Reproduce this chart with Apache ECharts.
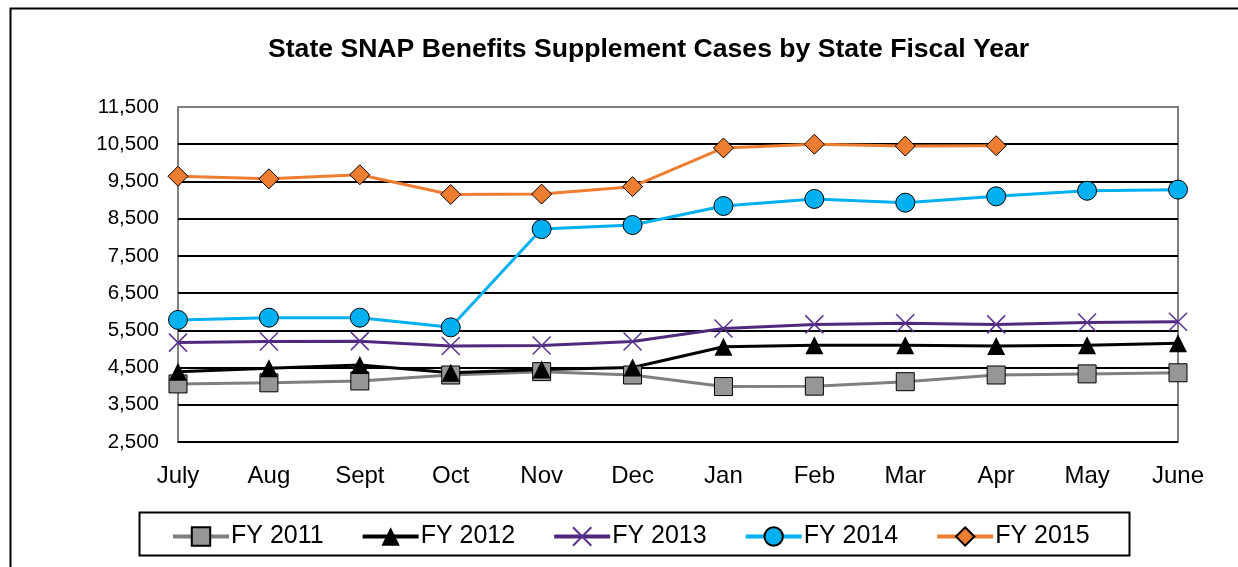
<!DOCTYPE html>
<html>
<head>
<meta charset="utf-8">
<script src="https://cdn.jsdelivr.net/npm/echarts@6/dist/echarts.min.js"></script>
<style>
  html,body{margin:0;padding:0;background:#fff;}
  #snap{width:1238px;height:567px;}
</style>
</head>
<body>
<div id="snap"></div>
<script>
// months of the state fiscal year
var months = ['July','Aug','Sept','Oct','Nov','Dec','Jan','Feb','Mar','Apr','May','June'];
var yTicks = [2500, 3500, 4500, 5500, 6500, 7500, 8500, 9500, 10500, 11500];

var fy2011 = [4060, 4090, 4140, 4300, 4390, 4300, 3990, 4000, 4120, 4300, 4330, 4360];
var fy2012 = [4390, 4480, 4570, 4360, 4450, 4500, 5060, 5100, 5100, 5080, 5100, 5150];
var fy2013 = [5170, 5200, 5210, 5080, 5090, 5200, 5550, 5660, 5690, 5660, 5710, 5730];
var fy2014 = [5780, 5840, 5840, 5580, 8220, 8330, 8840, 9030, 8930, 9100, 9250, 9280];
var fy2015 = [9640, 9570, 9680, 9150, 9160, 9360, 10400, 10500, 10450, 10460, null, null];

var font = 'Liberation Sans, Arial, sans-serif';
var chart = echarts.init(document.getElementById('snap'));

function mkSeries(name, data, color, symbol, size, item) {
  return {
    name: name,
    type: 'line',
    data: data,
    symbol: symbol,
    symbolSize: size,
    showAllSymbol: true,
    connectNulls: false,
    lineStyle: {color: color, width: 3},
    itemStyle: item,
    emphasis: {disabled: true}
  };
}

var option = {
  animation: false,
  backgroundColor: '#fff',
  title: {
    text: 'State SNAP Benefits Supplement Cases by State Fiscal Year',
    left: 268,
    top: 36,
    padding: 0,
    textStyle: {fontFamily: font, fontSize: 26.6, fontWeight: 'bold', color: '#000'}
  },
  graphic: [
    {type: 'rect', left: 8, top: 6, shape: {width: 1300, height: 620},
     style: {fill: 'none', stroke: '#000', lineWidth: 2}, silent: true},
    {type: 'rect', left: 137, top: 510, shape: {width: 990, height: 43},
     style: {fill: 'none', stroke: '#000', lineWidth: 2}, silent: true}
  ],
  grid: {
    left: 178, right: 60, top: 107, bottom: 125,
    show: true, borderColor: '#808080', borderWidth: 2, backgroundColor: 'transparent'
  },
  legend: {
    left: 166, top: 519,
    itemWidth: 56, itemHeight: 23, itemGap: 37,
    lineStyle: {width: 4},
    textStyle: {fontFamily: font, fontSize: 25, color: '#000', padding: [0, 0, 0, -3]},
    data: ['FY 2011', 'FY 2012', 'FY 2013', 'FY 2014', 'FY 2015']
  },
  xAxis: {
    type: 'category',
    data: months,
    boundaryGap: false,
    axisLine: {show: false},
    axisTick: {show: false},
    axisLabel: {fontFamily: font, fontSize: 24, color: '#000', margin: 22}
  },
  yAxis: {
    type: 'value',
    min: yTicks[0],
    max: yTicks[yTicks.length - 1],
    interval: 1000,
    axisLine: {show: false},
    axisTick: {show: false},
    splitLine: {show: true, showMaxLine: false, lineStyle: {color: '#000', width: 2}},
    axisLabel: {
      fontFamily: font, fontSize: 20.5, color: '#000', margin: 19,
      formatter: function (v) { return v.toLocaleString('en-US'); }
    }
  },
  series: [
    mkSeries('FY 2011', fy2011, '#7f7f7f', 'rect', 18,
      {color: '#969696', borderColor: '#000', borderWidth: 1}),
    mkSeries('FY 2012', fy2012, '#000', 'triangle', 18,
      {color: '#000'}),
    mkSeries('FY 2013', fy2013, '#4f2a7c', 'path://M0,0L10,10M10,0L0,10', 18,
      {color: '#5a3390', borderColor: '#5a3390', borderWidth: 1.5}),
    mkSeries('FY 2014', fy2014, '#00b0f0', 'circle', 19,
      {color: '#00b0f0', borderColor: '#000', borderWidth: 1}),
    mkSeries('FY 2015', fy2015, '#ed7d31', 'diamond', 20,
      {color: '#ed7d31', borderColor: '#000', borderWidth: 1})
  ]
};

chart.setOption(option);
</script>
</body>
</html>
